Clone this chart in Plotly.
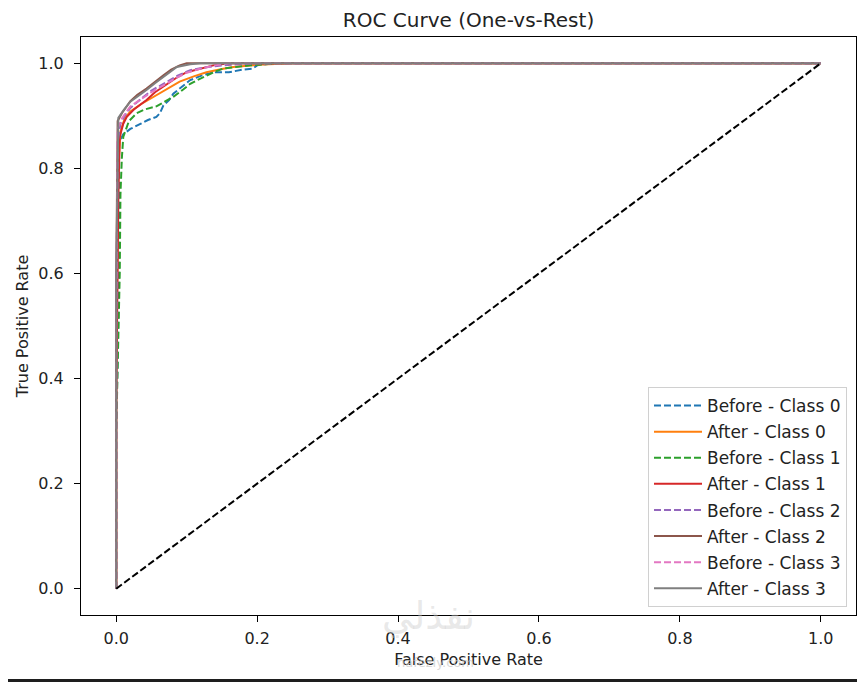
import plotly.graph_objects as go

# ---- data ----
before0_fpr = [0, 0.0, 0.004, 0.004, 0.01, 0.02, 0.035, 0.045, 0.057, 0.062, 0.067, 0.075, 0.081, 0.095, 0.105, 0.12, 0.138, 0.16, 0.18, 0.194, 0.2, 0.22, 1.0]
before0_tpr = [0, 0.3, 0.6, 0.85, 0.865, 0.875, 0.885, 0.892, 0.898, 0.905, 0.92, 0.93, 0.942, 0.958, 0.968, 0.976, 0.983, 0.983, 0.988, 0.99, 0.996, 1.0, 1.0]

after0_fpr = [0, 0, 0.003, 0.006, 0.012, 0.02, 0.035, 0.053, 0.07, 0.09, 0.11, 0.128, 0.15, 0.166, 0.2, 0.25, 1.0]
after0_tpr = [0, 0.4, 0.8, 0.87, 0.895, 0.908, 0.922, 0.936, 0.95, 0.965, 0.975, 0.983, 0.989, 0.993, 0.997, 1.0, 1.0]

before1_fpr = [0, 0, 0.005, 0.006, 0.008, 0.01, 0.018, 0.029, 0.04, 0.057, 0.07, 0.081, 0.095, 0.105, 0.118, 0.128, 0.14, 0.152, 0.17, 0.19, 0.23, 1.0]
before1_tpr = [0, 0.3, 0.6, 0.75, 0.82, 0.86, 0.89, 0.905, 0.912, 0.918, 0.928, 0.936, 0.95, 0.961, 0.97, 0.977, 0.984, 0.99, 0.993, 0.996, 1.0, 1.0]

after1_fpr = [0, 0, 0.003, 0.005, 0.01, 0.015, 0.025, 0.043, 0.055, 0.072, 0.085, 0.1, 0.12, 0.138, 0.16, 1.0]
after1_tpr = [0, 0.35, 0.75, 0.86, 0.885, 0.898, 0.912, 0.93, 0.945, 0.961, 0.972, 0.983, 0.99, 0.996, 1.0, 1.0]

before2_fpr = [0, 0, 0.002, 0.006, 0.012, 0.02, 0.035, 0.05, 0.067, 0.085, 0.105, 0.125, 0.15, 0.2, 1.0]
before2_tpr = [0, 0.5, 0.85, 0.885, 0.9, 0.915, 0.932, 0.948, 0.961, 0.975, 0.987, 0.992, 0.996, 1.0, 1.0]

after2_fpr = [0, 0, 0.002, 0.008, 0.02, 0.03, 0.043, 0.055, 0.067, 0.078, 0.09, 0.1, 1.0]
after2_tpr = [0, 0.6, 0.89, 0.905, 0.928, 0.94, 0.952, 0.965, 0.977, 0.988, 0.996, 1.0, 1.0]

before3_fpr = [0, 0, 0.002, 0.008, 0.02, 0.035, 0.05, 0.067, 0.085, 0.1, 0.12, 0.14, 0.16, 1.0]
before3_tpr = [0, 0.5, 0.875, 0.895, 0.918, 0.932, 0.945, 0.958, 0.972, 0.982, 0.99, 0.996, 1.0, 1.0]

after3_fpr = [0, 0, 0.003, 0.01, 0.02, 0.032, 0.043, 0.055, 0.067, 0.078, 0.086, 0.105, 0.12, 1.0]
after3_tpr = [0, 0.6, 0.896, 0.91, 0.927, 0.938, 0.949, 0.962, 0.974, 0.985, 0.993, 0.998, 1.0, 1.0]

chance_x = [0, 1]
chance_y = [0, 1]

series_names = ["Before - Class 0", "After - Class 0", "Before - Class 1", "After - Class 1",
                "Before - Class 2", "After - Class 2", "Before - Class 3", "After - Class 3"]
series_x = [before0_fpr, after0_fpr, before1_fpr, after1_fpr, before2_fpr, after2_fpr, before3_fpr, after3_fpr]
series_y = [before0_tpr, after0_tpr, before1_tpr, after1_tpr, before2_tpr, after2_tpr, before3_tpr, after3_tpr]
colors = ["#1f77b4", "#ff7f0e", "#2ca02c", "#d62728", "#9467bd", "#8c564b", "#e377c2", "#7f7f7f"]

tick_vals = [0.0, 0.2, 0.4, 0.6, 0.8, 1.0]
tick_text = ["0.0", "0.2", "0.4", "0.6", "0.8", "1.0"]

fig = go.Figure()
for i, (name, xs, ys, c) in enumerate(zip(series_names, series_x, series_y, colors)):
    dashed = name.startswith("Before")
    fig.add_trace(go.Scatter(
        x=xs, y=ys, mode="lines", name=name, legendgroup=name,
        line=dict(color=c, width=2, dash="7px,3px" if dashed else "solid"),
    ))
fig.add_trace(go.Scatter(x=chance_x, y=chance_y, mode="lines", showlegend=False,
                         line=dict(color="black", width=2, dash="7px,3px")))

# The page body has an 8px margin, so the figure is offset by 8px; sizes compensate.
OFF = 8
W, H = 865 - OFF, 682 - OFF
L, R, T, B = 81 - OFF, 9, 37 - OFF, 67
pw, ph = W - L - R, H - T - B

def px_to_paper_x(px):  # px in window coordinates
    return (px - OFF - L) / pw

def px_to_paper_y(py):
    return (H - B - (py - OFF)) / ph

TXT = "#222"
axis_common = dict(
    showgrid=False, zeroline=False, showline=True, linecolor="black", linewidth=1,
    mirror=True, ticks="outside", ticklen=6, tickwidth=1, tickcolor="black",
    tickvals=tick_vals, ticktext=tick_text,
    tickfont=dict(family="DejaVu Sans", size=16, color=TXT),
)

fig.update_layout(
    width=W, height=H,
    margin=dict(l=L, r=R, t=T, b=B),
    paper_bgcolor="white", plot_bgcolor="white",
    font=dict(family="DejaVu Sans", color=TXT),
    title=dict(text="ROC Curve (One-vs-Rest)", x=0.5, xref="paper", xanchor="center",
               y=1 - (20 - OFF) / H, yref="container", yanchor="middle",
               font=dict(family="DejaVu Sans", size=20, color=TXT)),
    xaxis=dict(range=[-0.05, 1.05], ticklabelstandoff=3,
               title=dict(text="False Positive Rate", standoff=6,
                          font=dict(family="DejaVu Sans", size=16, color=TXT)), **axis_common),
    yaxis=dict(range=[-0.05, 1.05], ticklabelstandoff=7,
               title=dict(text="True Positive Rate", standoff=5,
                          font=dict(family="DejaVu Sans", size=16, color=TXT)), **axis_common),
    legend=dict(x=px_to_paper_x(847), xanchor="right", y=px_to_paper_y(607), yanchor="bottom",
                bgcolor="white", bordercolor="#d0d0d0", borderwidth=1,
                font=dict(family="DejaVu Sans", size=17, color=TXT),
                itemwidth=48, traceorder="grouped", tracegroupgap=1),
    showlegend=True,
)

# dark screenshot frame (bottom strip)
fig.add_shape(type="rect", xref="paper", yref="paper",
              x0=px_to_paper_x(OFF), x1=px_to_paper_x(865), y0=px_to_paper_y(682), y1=px_to_paper_y(679),
              fillcolor="#1e1e1e", line=dict(width=0), layer="above")

# faint watermark
fig.add_annotation(text="نفذلي", xref="paper", yref="paper", x=px_to_paper_x(428), y=px_to_paper_y(640),
                   showarrow=False, font=dict(family="DejaVu Sans", size=38, color="rgba(205,205,205,0.45)"))
fig.add_annotation(text="nafezly.com", xref="paper", yref="paper", x=px_to_paper_x(435), y=px_to_paper_y(672),
                   showarrow=False, font=dict(family="DejaVu Sans", size=13, color="rgba(200,200,200,0.7)"))

fig.write_html("out.html")
